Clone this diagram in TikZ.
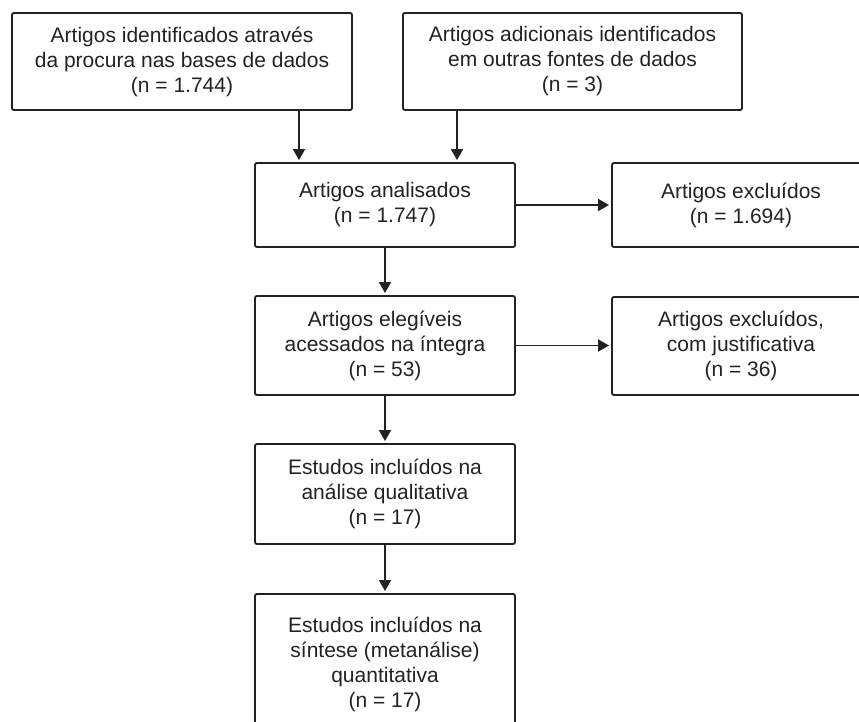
\documentclass[tikz,border=0pt]{standalone}
\usepackage{fontspec}
\setmainfont{Liberation Sans}
\usepackage{xcolor}
\usetikzlibrary{positioning,arrows.meta,calc}
\definecolor{FlowInk}{HTML}{222222}

\begin{document}
\begin{tikzpicture}[
  x=1pt, y=-1pt,
  box/.style={draw=FlowInk,line width=1.9pt,rounded corners=2pt,align=center,inner sep=4pt,
    font=\fontsize{21}{25}\selectfont,text=FlowInk},
  colbox/.style={box,minimum width=260pt},
  sidebox/.style={box,minimum width=258pt},
  arr/.style={draw=FlowInk,line width=1.9pt,-{Triangle[width=12pt,length=11pt]},shorten >=2pt}
]
\useasboundingbox (0,0) rectangle (859,721);
\clip (0,0) rectangle (859,721);

% identification
\node[box,minimum width=340pt,minimum height=97pt] (ident) at (182,61.5)
  {Artigos identificados através\\da procura nas bases de dados\\(n = 1.744)};
\node[box,minimum width=339pt,minimum height=97pt] (adic) at (572.5,61.5)
  {Artigos adicionais identificados\\em outras fontes de dados\\(n = 3)};

% main column
\node[colbox,minimum height=84pt] (analis) at (385,205) {Artigos analisados\\(n = 1.747)};
\node[colbox,minimum height=99pt] (eleg) at (385,345.5)
  {Artigos elegíveis\\acessados na íntegra\\(n = 53)};
\node[colbox,minimum height=100pt] (estud) at (385,494)
  {Estudos incluídos na\\análise qualitativa\\(n = 17)};
\node[colbox,minimum height=140pt,anchor=north,inner ysep=9pt] (sint) at (385,593)
  {Estudos incluídos na\\síntese (metanálise)\\quantitativa\\(n = 17)};

% exclusions (open to the right edge)
\node[sidebox,minimum height=84pt] (excl) at (741,205) {Artigos excluídos\\(n = 1.694)};
\node[sidebox,minimum height=98pt] (exclj) at (741,346)
  {Artigos excluídos,\\com justificativa\\(n = 36)};

% connectors
\coordinate (in1) at (299,0);
\coordinate (in2) at (457,0);
\draw[arr] (ident.south -| in1) -- (analis.north -| in1);
\draw[arr] (adic.south -| in2) -- (analis.north -| in2);
\draw[arr] (analis.east) -- (analis.east -| excl.west);
\draw[arr] (eleg.east) -- (eleg.east -| exclj.west);
\draw[arr] (analis.south) -- (eleg.north);
\draw[arr] (eleg.south) -- (estud.north);
\draw[arr] (estud.south) -- (sint.north);
\end{tikzpicture}
\end{document}
